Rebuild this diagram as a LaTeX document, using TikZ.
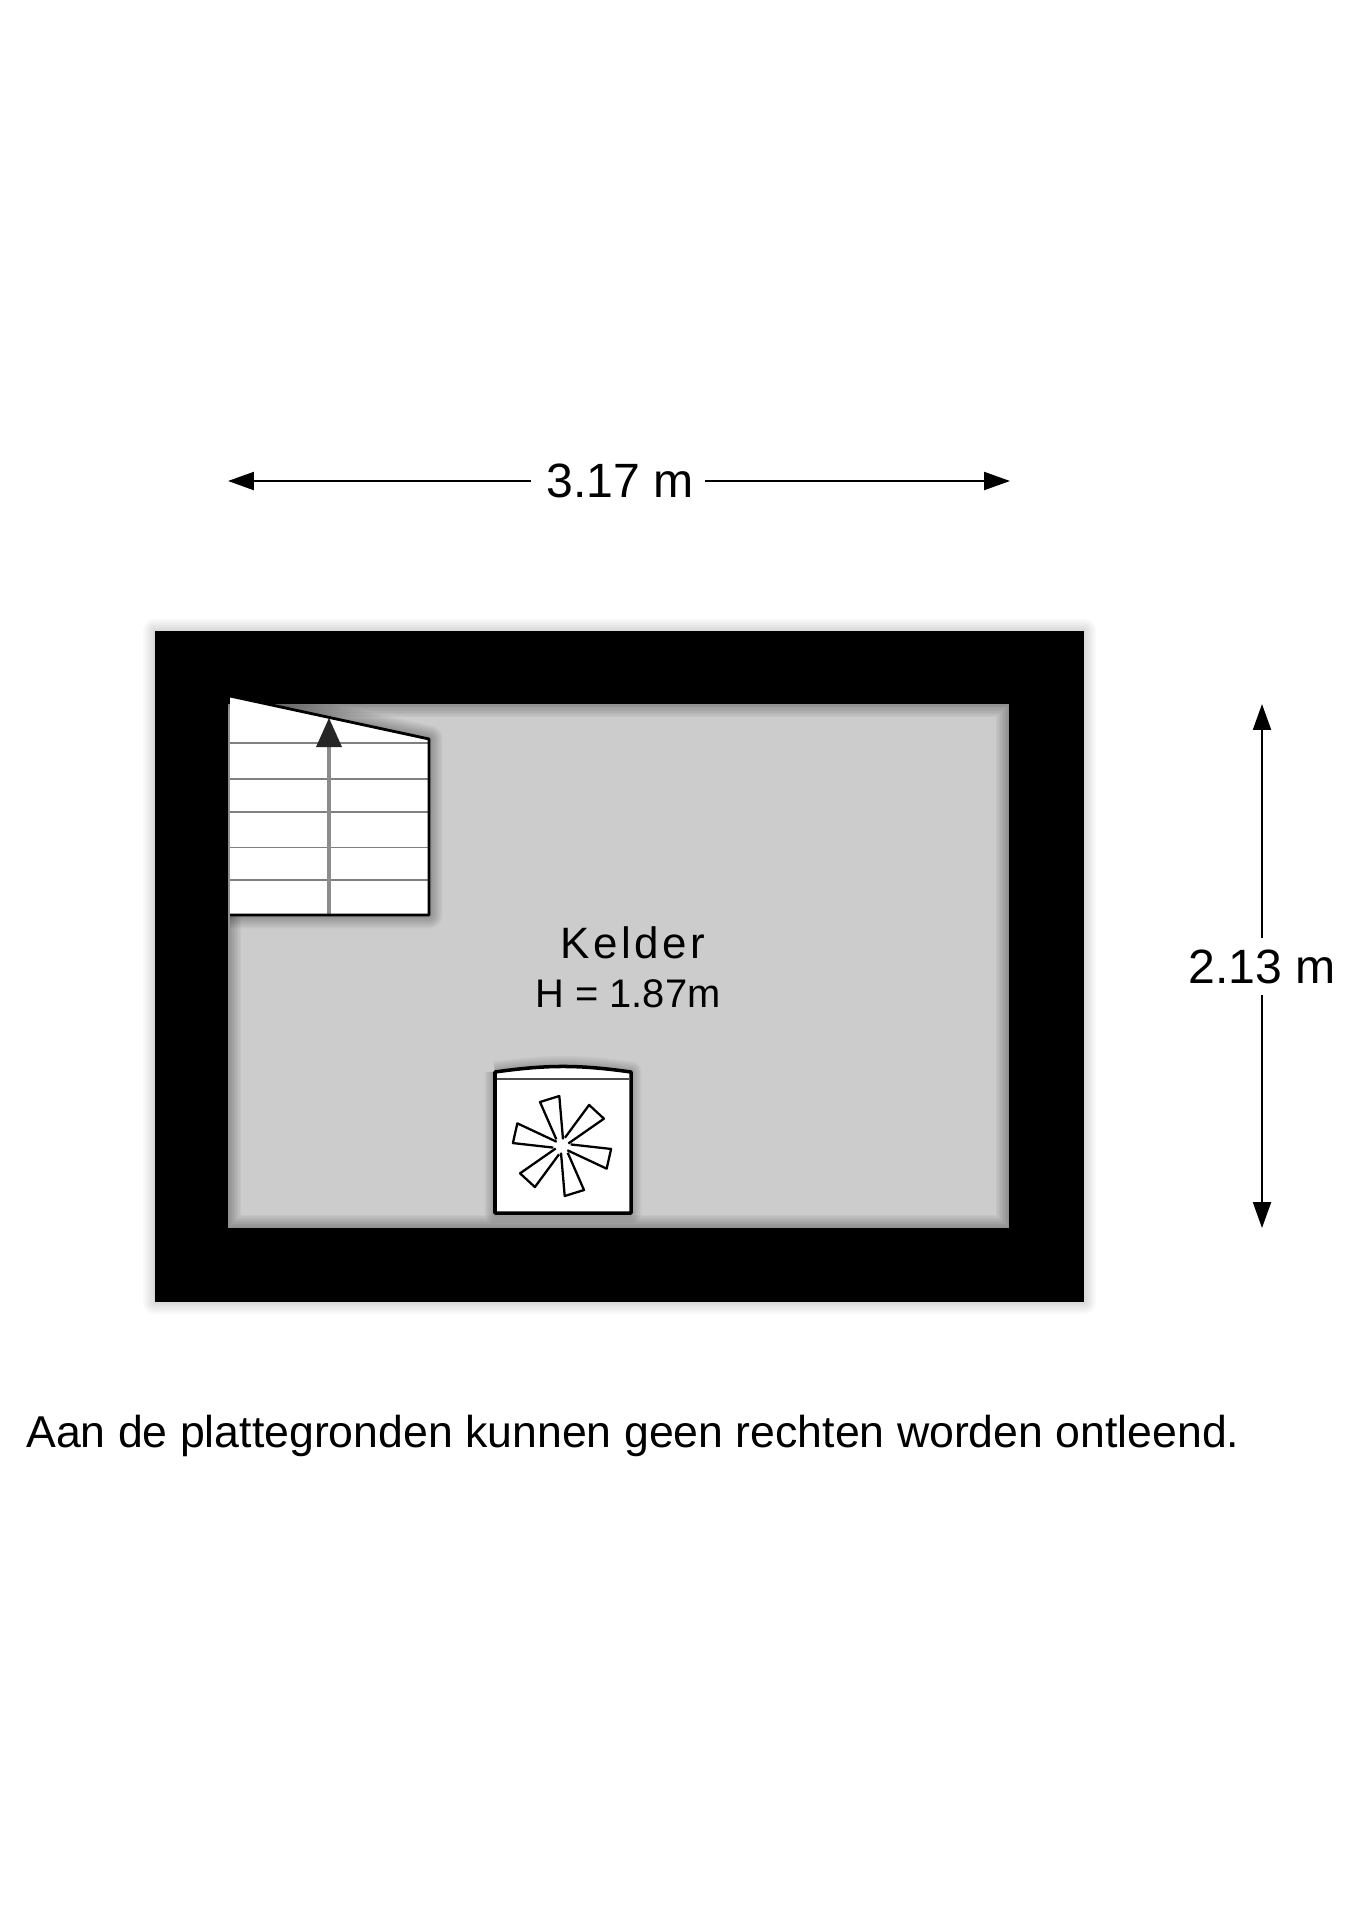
\documentclass[tikz,border=0pt]{standalone}
\usepackage{fontspec}
\setmainfont{Liberation Sans}
\usetikzlibrary{arrows.meta,positioning}
\tikzset{
  dim/.style={draw=black, line width=1.2pt, -{Triangle[length=14.7pt,width=10.2pt]}},
  dimlabel/.style={inner sep=0pt, font=\fontsize{27.4}{30}\selectfont},
  shade/.style={draw=black, opacity=.035, line join=round},
  tread/.style={draw=black!50, line width=1.1pt},
  outline/.style={draw=black, line width=1.6pt, line join=round},
}
\begin{document}
\begin{tikzpicture}[x=.02cm, y=-.02cm]
\useasboundingbox (0,0) rectangle (1358,1920);
\fill[white] (0,0) rectangle (1358,1920);
% walls
\foreach \w in {4,8,...,24}
\draw[shade, opacity=.022, line width=\w*.567pt] (154.5,631) rectangle (1084,1302);
\fill[black] (154.5,631) rectangle (1084,1302);
\fill[black!20] (228,704) rectangle (1009,1228);
\begin{scope}
\clip (228,704) rectangle (1009,1228);
\foreach \w in {3,6,...,27}
\draw[shade, line width=\w*.567pt] (228,704) rectangle (1009,1228);
\foreach \w in {3,6,...,27}
\draw[shade, line width=\w*.567pt] (230,696) -- (429,739) -- (429,915) -- (230,915);
\foreach \w in {3,6,...,21}
\draw[shade, line width=\w*.567pt] (495,1072) -- (495,1213) -- (631,1213) -- (631,1072) to[bend right=8] (495,1072);
\end{scope}
% stairs
\fill[white] (230,696) -- (429,739) -- (429,915) -- (230,915) -- cycle;
\foreach \y in {743,779,812,847.5,880}
\draw[tread] (230,\y) -- (429,\y);
\draw[draw=black!45, line width=1.8pt] (329,915) -- (329,745);
\fill[black!85] (329,718) -- (342,747) -- (316,747) -- cycle;
\draw[outline] (230,696) -- (429,739) -- (429,915) -- (230,915);
% fan
\coordinate (fan) at (562,1146);
\filldraw[fill=white, outline, line width=2pt] (495,1072) to[bend left=8] (631,1072) -- (631,1213) -- (495,1213) -- cycle;
\draw[draw=black!70, line width=1.1pt] (497,1079) -- (629,1079);
\foreach \a in {0,60,...,300}
\draw[outline, line width=1.3pt, shift={(fan)}, rotate=\a] (-5.7,-6.7) -- (-22,-44) -- (-2.7,-50) -- (1,-6.7);
% dimensions
\node[dimlabel] (width) at (620,481) {3.17 m};
\node[dimlabel] (height) at (1262,967) {2.13 m};
\coordinate (wl) at (228,481);
\coordinate (wr) at (1010,481);
\coordinate (ht) at (1262,704);
\coordinate (hb) at (1262,1228);
\draw[dim] (width.west) ++(-15,0) -- (wl);
\draw[dim] (width.east) ++(11,0) -- (wr);
\draw[dim] (height.north) ++(0,-12) -- (ht);
\draw[dim] (height.south) ++(0,11) -- (hb);
% labels
\node[inner sep=0pt, anchor=base, font=\fontsize{25}{28}\selectfont\addfontfeature{LetterSpace=8}] (room) at (633,958) {Kelder};
\node[inner sep=0pt, anchor=base, font=\fontsize{22.7}{26}\selectfont] (roomh) at (628,1007) {H = 1.87m};
\node[inner sep=0pt, font=\fontsize{25.4}{30}\selectfont] (note) at (633,1436) {Aan de plattegronden kunnen geen rechten worden ontleend.};
\end{tikzpicture}
\end{document}
